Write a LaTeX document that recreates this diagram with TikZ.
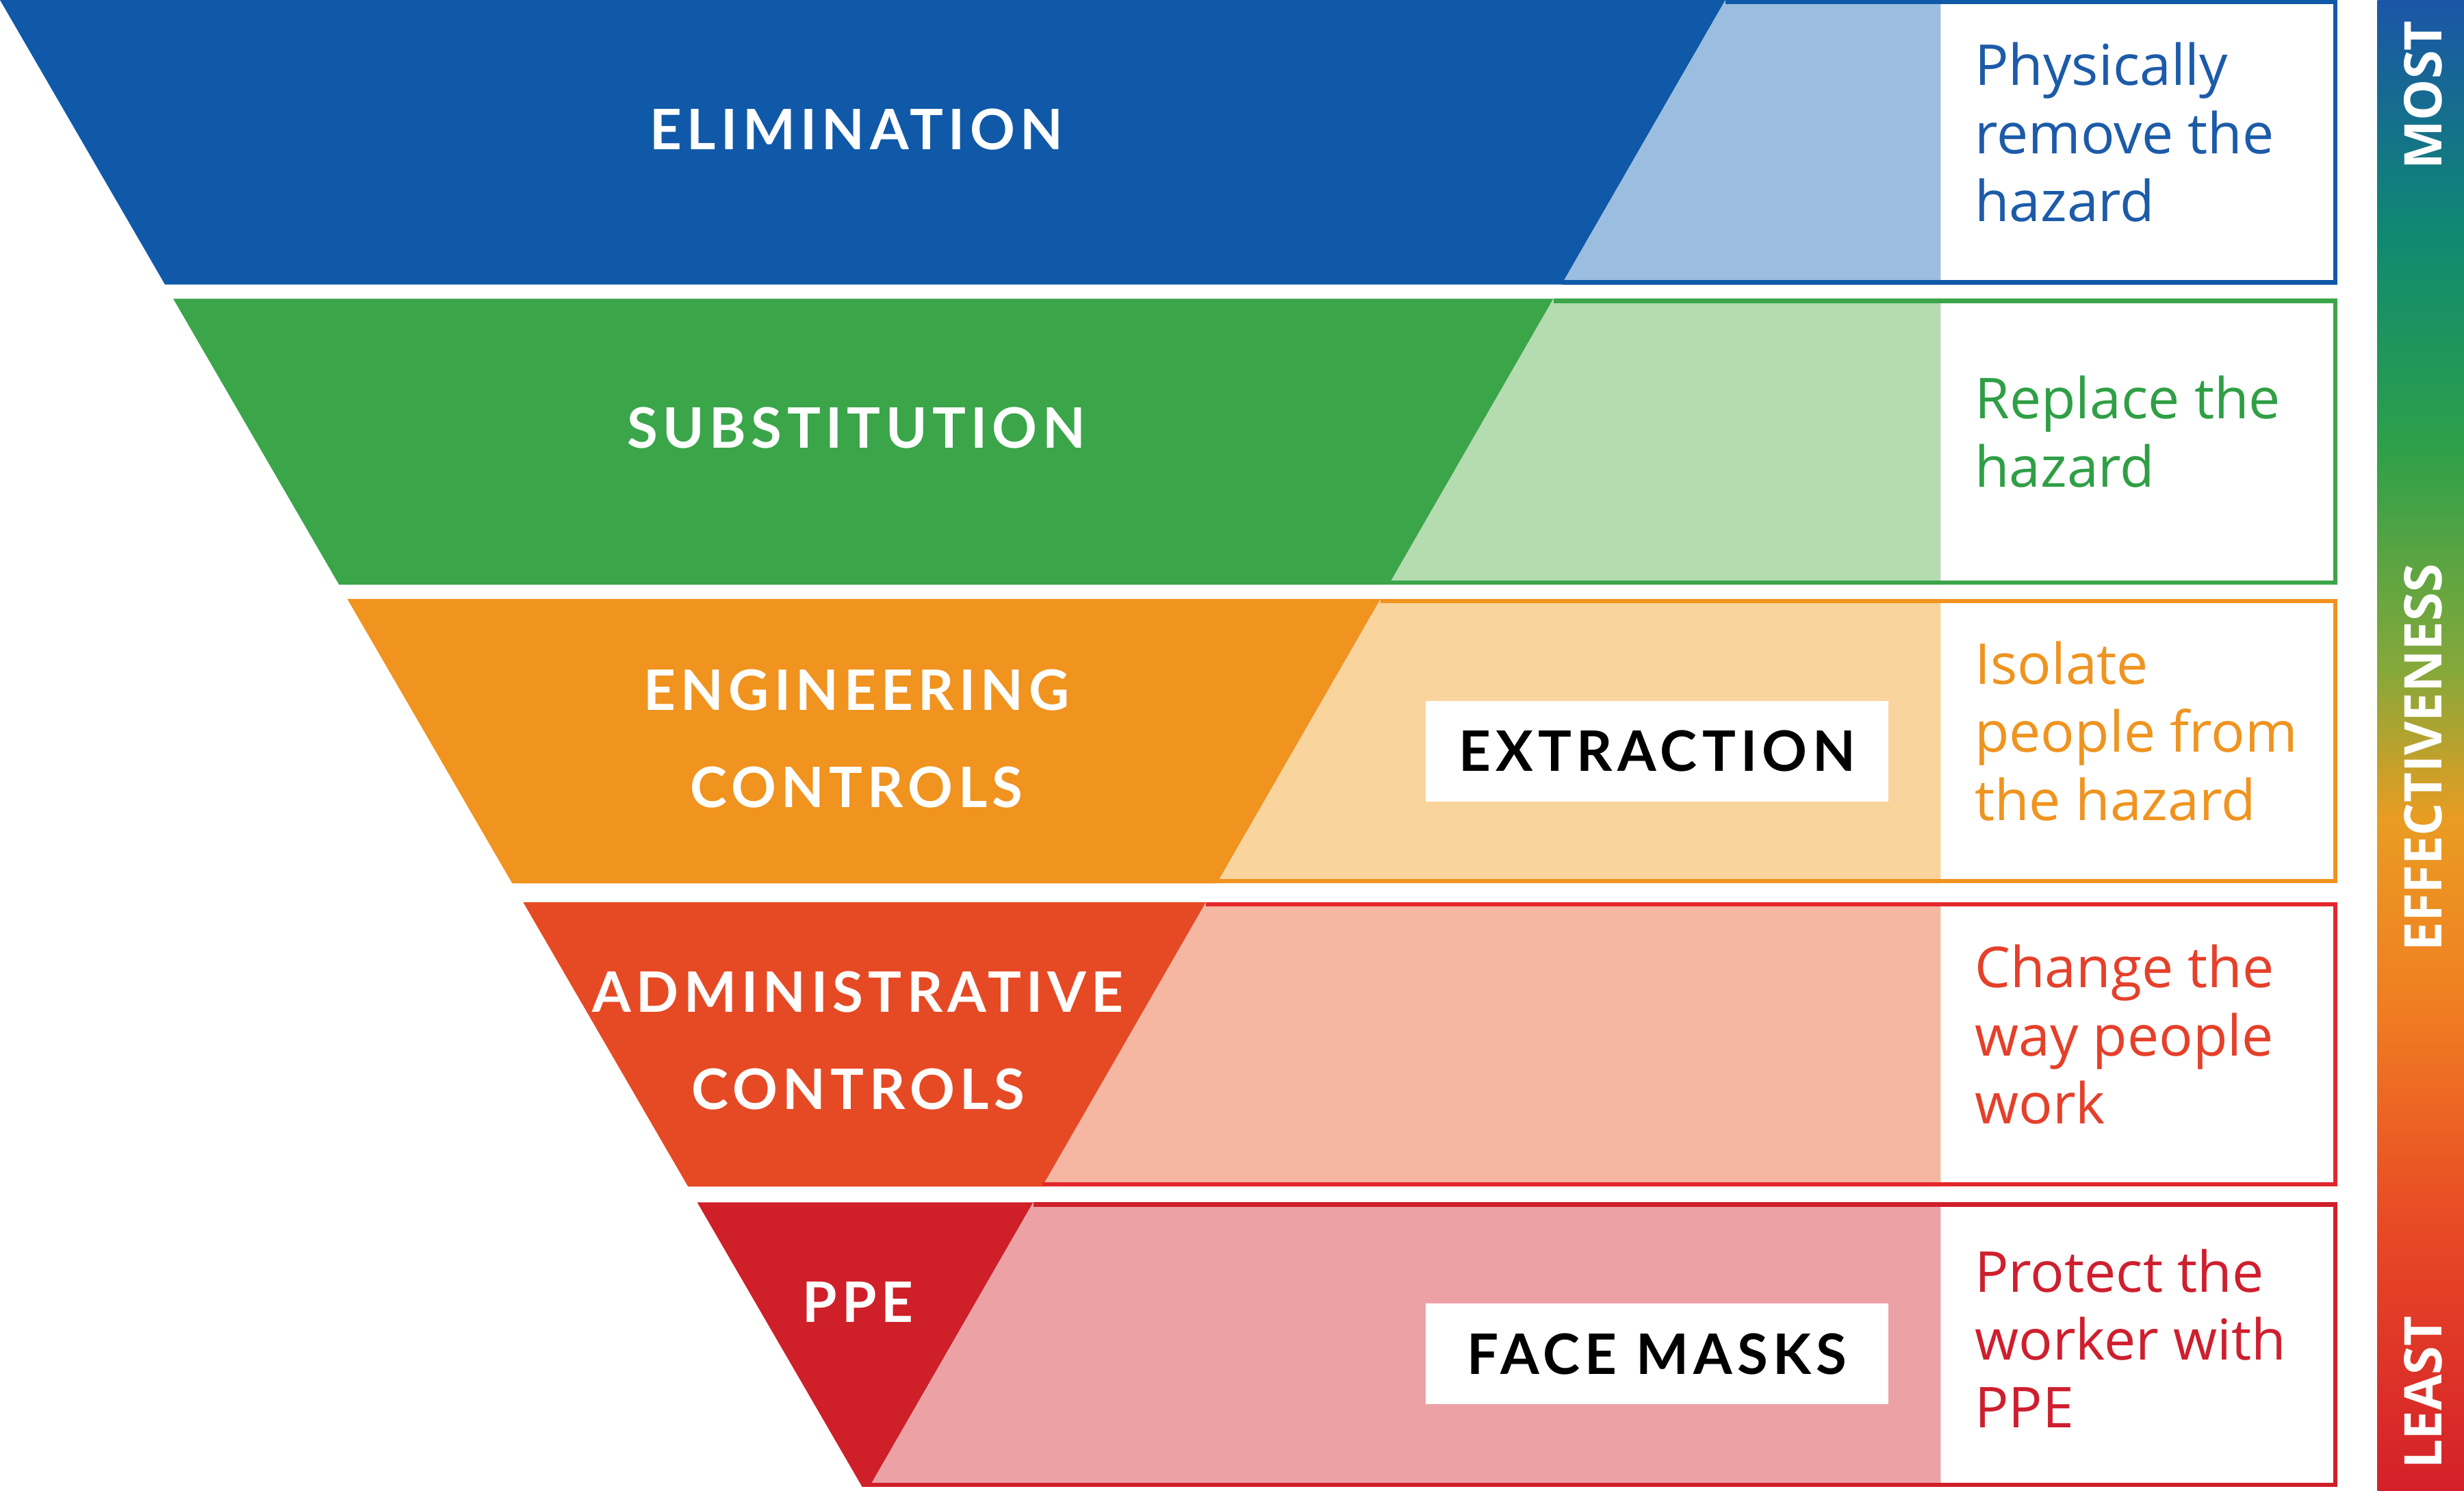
\documentclass[tikz,border=0pt]{standalone}
\usepackage{fontspec}
\usepackage{xcolor}
\usetikzlibrary{positioning}
\newfontfamily\labelfont[LetterSpace=9]{Lato}
\newfontfamily\descfont{Open Sans}
\newfontfamily\barfont{Open Sans}

\definecolor{elimdark}{HTML}{1059A9}
\definecolor{elimlight}{HTML}{9BBEE0}
\definecolor{elimtext}{HTML}{1C5BA8}
\definecolor{substdark}{HTML}{3BA54A}
\definecolor{substlight}{HTML}{B4DCAF}
\definecolor{substtext}{HTML}{2F9F45}
\definecolor{engindark}{HTML}{F0931F}
\definecolor{enginlight}{HTML}{F9D49C}
\definecolor{engintext}{HTML}{EF9420}
\definecolor{admindark}{HTML}{E64A24}
\definecolor{adminlight}{HTML}{F5B6A2}
\definecolor{adminedge}{HTML}{E2262B}
\definecolor{admintext}{HTML}{E5402A}
\definecolor{ppedark}{HTML}{CF1F29}
\definecolor{ppelight}{HTML}{ECA2A5}
\definecolor{ppetext}{HTML}{CE1F2E}
\definecolor{barblue}{HTML}{1B55A8}
\definecolor{barteal}{HTML}{0F8A70}
\definecolor{bargreen}{HTML}{2EA04A}
\definecolor{barolive}{HTML}{86A83A}
\definecolor{baryellow}{HTML}{E99C22}
\definecolor{barorange}{HTML}{F07C22}
\definecolor{barredor}{HTML}{E84A25}
\definecolor{barred}{HTML}{D4202A}

\pgfdeclareverticalshading{effbar}{100bp}{color(0bp)=(barred); color(25bp)=(barred); color(34bp)=(barredor); color(41bp)=(barorange); color(47.5bp)=(baryellow); color(52.5bp)=(barolive); color(60bp)=(bargreen); color(67bp)=(barteal); color(75bp)=(barblue); color(100bp)=(barblue)}

\tikzset{
  levellabel/.style={font=\labelfont\bfseries\fontsize{10.1}{17.5}\selectfont, text=white, align=center, inner sep=0pt},
  tagbox/.style={fill=white, minimum width=2.94cm, minimum height=0.64cm, inner sep=0pt, font=\labelfont\bfseries\fontsize{10.1}{12}\selectfont, text=black},
  desctext/.style={font=\descfont\fontsize{10.2}{12.3}\selectfont, align=left, anchor=west, inner sep=0pt, execute at begin node=\strut, execute at end node=\strut},
  bartext/.style={font=\barfont\bfseries\fontsize{9.4}{11}\selectfont, text=white, rotate=90, inner sep=0pt}
}

\begin{document}
\begin{tikzpicture}[x=0.01cm, y=-0.01cm]
  \useasboundingbox (0,0) rectangle (1568,948.2);

  % funnel bands: dark part, light part, outline
  \foreach \ytop/\ybot/\dark/\light/\edge in {0/181/elimdark/elimlight/elimdark, 190/372/substdark/substlight/substdark, 381/562/engindark/enginlight/engindark, 574/755/admindark/adminlight/adminedge, 765/946/ppedark/ppelight/ppedark} {
    \pgfmathsetmacro\xa{0.58*\ytop}
    \pgfmathsetmacro\xb{0.58*\ybot}
    \pgfmathsetmacro\xc{1098-0.5758*\ytop}
    \pgfmathsetmacro\xd{1098-0.5758*\ybot}
    \fill[\dark] (\xa,\ytop) -- (\xc,\ytop) -- (\xd,\ybot) -- (\xb,\ybot) -- cycle;
    \fill[\light] (\xc,\ytop) -- (1235,\ytop) -- (1235,\ybot) -- (\xd,\ybot) -- cycle;
    \draw[\edge, line width=0.8pt] (\xc,\ytop+1.4) -- (1486,\ytop+1.4) -- (1486,\ybot-1.4) -- (\xd,\ybot-1.4);
  }

  % level names
  \node[levellabel] (elim) at (545,82.3) {ELIMINATION};
  \node[levellabel] (subst) at (545,272) {SUBSTITUTION};
  \node[levellabel] (engin) at (545,470) {ENGINEERING\\CONTROLS};
  \node[levellabel] (admin) at (546,662) {ADMINISTRATIVE\\CONTROLS};
  \node[levellabel] (ppe) at (546,828.6) {PPE};

  % examples
  \node[tagbox] (extract) at (1054.5,478) {EXTRACTION};
  \node[tagbox] (masks) at (1054.5,861.5) {FACE MASKS};

  % descriptions
  \node[desctext, text=elimtext] (elimdesc) at (1256,90.5) {Physically\\remove the\\hazard};
  \node[desctext, text=substtext] (substdesc) at (1256,281) {Replace the\\hazard};
  \node[desctext, text=engintext] (engindesc) at (1256,471.5) {Isolate\\people from\\the hazard};
  \node[desctext, text=admintext] (admindesc) at (1256,664.5) {Change the\\way people\\work};
  \node[desctext, text=ppetext] (ppedesc) at (1256,858) {Protect the\\worker with\\PPE};

  % effectiveness bar
  \shade[shading=effbar] (1513,0) rectangle (1568,948.2);
  \node[bartext] (most) at (1542,60.5) {MOST};
  \node[bartext] (effect) at (1542,482) {EFFECTIVENESS};
  \node[bartext] (least) at (1542,886) {LEAST};
\end{tikzpicture}
\end{document}
